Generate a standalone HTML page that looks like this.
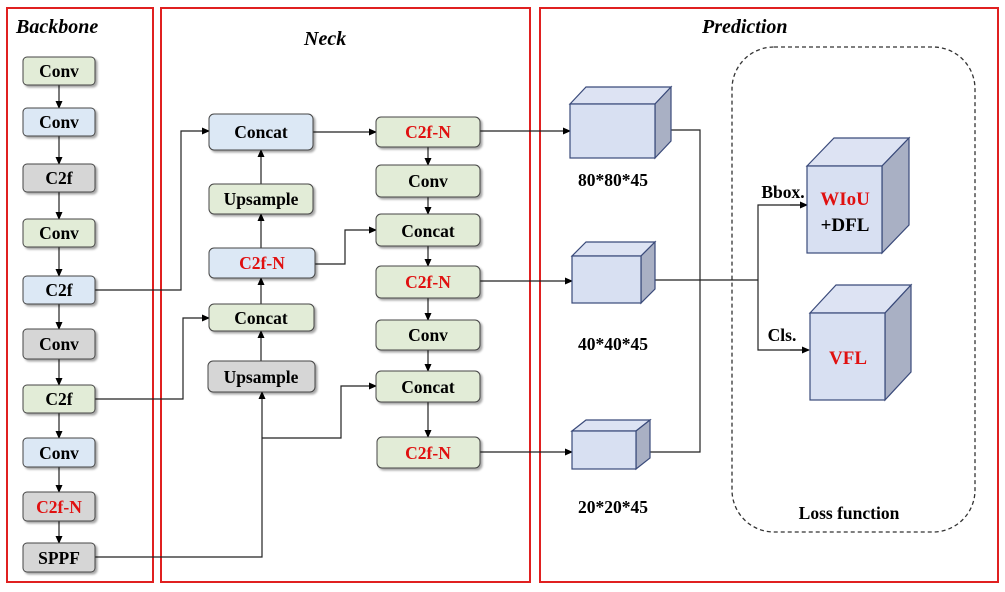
<!DOCTYPE html>
<html><head><meta charset="utf-8"><style>
html,body{margin:0;padding:0;background:#fff}
svg{display:block}
text{font-family:"Liberation Serif",serif;font-weight:bold}
</style></head><body>
<svg width="1005" height="592" viewBox="0 0 1005 592" xmlns="http://www.w3.org/2000/svg">
<defs>
<marker id="a" markerWidth="8" markerHeight="8" refX="7" refY="4" orient="auto" markerUnits="userSpaceOnUse"><path d="M0,0.5 L8,4 L0,7.5 z" fill="#000"/></marker>
<filter id="s" x="-10%" y="-10%" width="130%" height="140%"><feDropShadow dx="2" dy="2" stdDeviation="1" flood-color="#000" flood-opacity="0.35"/></filter>
</defs>
<rect x="7" y="8" width="146" height="574" fill="none" stroke="#e02020" stroke-width="2"/>
<rect x="161" y="8" width="369" height="574" fill="none" stroke="#e02020" stroke-width="2"/>
<rect x="540" y="8" width="458" height="574" fill="none" stroke="#e02020" stroke-width="2"/>
<text x="16" y="33" font-size="20" font-style="italic">Backbone</text>
<text x="304" y="45" font-size="20" font-style="italic">Neck</text>
<text x="702" y="33" font-size="20" font-style="italic">Prediction</text>
<rect x="732" y="47" width="243" height="485" rx="42" fill="none" stroke="#333" stroke-width="1.3" stroke-dasharray="4,3"/>

<g stroke="#222" stroke-width="1.2" fill="none">
<line x1="59" y1="85" x2="59" y2="108" marker-end="url(#a)"/>
<line x1="59" y1="136" x2="59" y2="164" marker-end="url(#a)"/>
<line x1="59" y1="192" x2="59" y2="219" marker-end="url(#a)"/>
<line x1="59" y1="247" x2="59" y2="276" marker-end="url(#a)"/>
<line x1="59" y1="304" x2="59" y2="329" marker-end="url(#a)"/>
<line x1="59" y1="359" x2="59" y2="385" marker-end="url(#a)"/>
<line x1="59" y1="413" x2="59" y2="438" marker-end="url(#a)"/>
<line x1="59" y1="467" x2="59" y2="492" marker-end="url(#a)"/>
<line x1="59" y1="521" x2="59" y2="543" marker-end="url(#a)"/>
<polyline points="95,290 181,290 181,131 209,131" marker-end="url(#a)"/>
<polyline points="95,399 183,399 183,318 209,318" marker-end="url(#a)"/>
<polyline points="95,557 262,557 262,392" marker-end="url(#a)"/>
<polyline points="262,438 341,438 341,386 376,386" marker-end="url(#a)"/>
<line x1="261" y1="361" x2="261" y2="331" marker-end="url(#a)"/>
<line x1="261" y1="304" x2="261" y2="278" marker-end="url(#a)"/>
<line x1="261" y1="248" x2="261" y2="214" marker-end="url(#a)"/>
<line x1="261" y1="184" x2="261" y2="150" marker-end="url(#a)"/>
<line x1="313" y1="132" x2="376" y2="132" marker-end="url(#a)"/>
<polyline points="315,264 345,264 345,230 376,230" marker-end="url(#a)"/>
<line x1="428" y1="147" x2="428" y2="165" marker-end="url(#a)"/>
<line x1="428" y1="197" x2="428" y2="214" marker-end="url(#a)"/>
<line x1="428" y1="246" x2="428" y2="266" marker-end="url(#a)"/>
<line x1="428" y1="298" x2="428" y2="320" marker-end="url(#a)"/>
<line x1="428" y1="350" x2="428" y2="371" marker-end="url(#a)"/>
<line x1="428" y1="402" x2="428" y2="437" marker-end="url(#a)"/>
<line x1="480" y1="131" x2="570" y2="131" marker-end="url(#a)"/>
<line x1="480" y1="281" x2="572" y2="281" marker-end="url(#a)"/>
<line x1="480" y1="452" x2="572" y2="452" marker-end="url(#a)"/>
<polyline points="655,130 700,130 700,452 636,452"/>
<line x1="641" y1="280" x2="758" y2="280"/>
<polyline points="807,205 758,205 758,350 808,350" />
<line x1="790" y1="205" x2="807" y2="205" marker-end="url(#a)"/>
<line x1="790" y1="350" x2="809" y2="350" marker-end="url(#a)"/>
</g>

<g stroke="#444" stroke-width="1" filter="url(#s)">
<rect x="23" y="57" width="72" height="28" rx="4" fill="#e2ecd7"/>
<rect x="23" y="108" width="72" height="28" rx="4" fill="#dce8f5"/>
<rect x="23" y="164" width="72" height="28" rx="4" fill="#d6d6d6"/>
<rect x="23" y="219" width="72" height="28" rx="4" fill="#e2ecd7"/>
<rect x="23" y="276" width="72" height="28" rx="4" fill="#dce8f5"/>
<rect x="23" y="329" width="72" height="30" rx="4" fill="#d6d6d6"/>
<rect x="23" y="385" width="72" height="28" rx="4" fill="#e2ecd7"/>
<rect x="23" y="438" width="72" height="29" rx="4" fill="#dce8f5"/>
<rect x="23" y="492" width="72" height="29" rx="4" fill="#d6d6d6"/>
<rect x="23" y="543" width="72" height="29" rx="4" fill="#d6d6d6"/>
<rect x="209" y="114" width="104" height="36" rx="5" fill="#dce8f5"/>
<rect x="209" y="184" width="104" height="30" rx="5" fill="#e2ecd7"/>
<rect x="209" y="248" width="106" height="30" rx="5" fill="#dce8f5"/>
<rect x="209" y="304" width="105" height="27" rx="5" fill="#e2ecd7"/>
<rect x="208" y="361" width="107" height="31" rx="5" fill="#d6d6d6"/>
<rect x="376" y="117" width="104" height="30" rx="5" fill="#e2ecd7"/>
<rect x="376" y="165" width="104" height="32" rx="5" fill="#e2ecd7"/>
<rect x="376" y="214" width="104" height="32" rx="5" fill="#e2ecd7"/>
<rect x="376" y="266" width="104" height="32" rx="5" fill="#e2ecd7"/>
<rect x="376" y="320" width="104" height="30" rx="5" fill="#e2ecd7"/>
<rect x="376" y="371" width="104" height="31" rx="5" fill="#e2ecd7"/>
<rect x="377" y="437" width="103" height="31" rx="5" fill="#e2ecd7"/>
</g>

<g font-size="17.5" text-anchor="middle">
<text x="59" y="77">Conv</text>
<text x="59" y="128">Conv</text>
<text x="59" y="184">C2f</text>
<text x="59" y="239">Conv</text>
<text x="59" y="296">C2f</text>
<text x="59" y="350">Conv</text>
<text x="59" y="405">C2f</text>
<text x="59" y="459">Conv</text>
<text x="59" y="513" fill="#e01010">C2f-N</text>
<text x="59" y="564">SPPF</text>
<text x="261" y="138">Concat</text>
<text x="261" y="205">Upsample</text>
<text x="262" y="269" fill="#e01010">C2f-N</text>
<text x="261" y="324">Concat</text>
<text x="261" y="383">Upsample</text>
<text x="428" y="138" fill="#e01010">C2f-N</text>
<text x="428" y="187">Conv</text>
<text x="428" y="237">Concat</text>
<text x="428" y="288" fill="#e01010">C2f-N</text>
<text x="428" y="341">Conv</text>
<text x="428" y="393">Concat</text>
<text x="428" y="459" fill="#e01010">C2f-N</text>
</g>

<g stroke="#3a4a7a" stroke-width="1.2">
<polygon points="570,104 586,87 671,87 655,104" fill="#dde3f3"/>
<polygon points="655,104 671,87 671,141 655,158" fill="#a9b0c4"/>
<rect x="570" y="104" width="85" height="54" fill="#d8e0f2"/>
<polygon points="572,256 586,242 655,242 641,256" fill="#dde3f3"/>
<polygon points="641,256 655,242 655,289 641,303" fill="#a9b0c4"/>
<rect x="572" y="256" width="69" height="47" fill="#d8e0f2"/>
<polygon points="572,431 586,420 650,420 636,431" fill="#dde3f3"/>
<polygon points="636,431 650,420 650,458 636,469" fill="#a9b0c4"/>
<rect x="572" y="431" width="64" height="38" fill="#d8e0f2"/>
<polygon points="807,166 834,138 909,138 882,166" fill="#dde3f3"/>
<polygon points="882,166 909,138 909,225 882,253" fill="#a9b0c4"/>
<rect x="807" y="166" width="75" height="87" fill="#d8e0f2"/>
<polygon points="810,313 836,285 911,285 885,313" fill="#dde3f3"/>
<polygon points="885,313 911,285 911,372 885,400" fill="#a9b0c4"/>
<rect x="810" y="313" width="75" height="87" fill="#d8e0f2"/>
</g>
<g font-size="17.5" text-anchor="middle">
<text x="613" y="186">80*80*45</text>
<text x="613" y="350">40*40*45</text>
<text x="613" y="513">20*20*45</text>
<text x="845" y="205" fill="#e01010" font-size="19">WIoU</text>
<text x="845" y="231" font-size="19">+DFL</text>
<text x="848" y="364" fill="#e01010" font-size="19">VFL</text>
<text x="783" y="198">Bbox.</text>
<text x="782" y="341">Cls.</text>
<text x="849" y="519">Loss function</text>
</g>
</svg>
</body></html>
